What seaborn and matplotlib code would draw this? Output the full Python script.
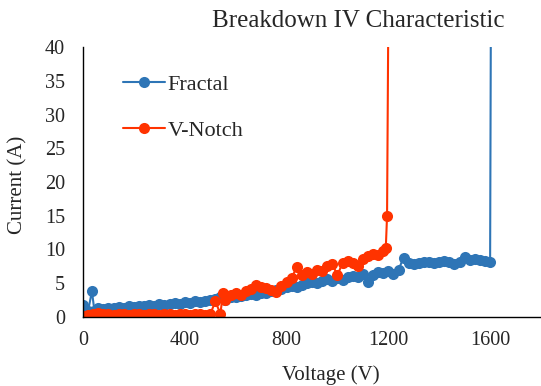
import matplotlib
matplotlib.use("Agg")
import matplotlib.pyplot as plt
import seaborn as sns
import pandas as pd

fractal_v = [0, 10, 20, 35, 45, 60, 80, 100, 120, 140, 160, 180, 200, 220, 240, 260, 280, 300,
             320, 340, 360, 380, 400, 420, 440, 460, 480, 500, 520, 540, 560, 580, 600, 620, 640,
             660, 680, 700, 720, 740, 760, 780, 800, 820, 840, 860, 880, 900, 920, 940, 960, 980,
             1000, 1020, 1040, 1060, 1080, 1100, 1120, 1140, 1160, 1180, 1200, 1220, 1240, 1260,
             1280, 1300, 1320, 1340, 1360, 1380, 1400, 1420, 1440, 1460, 1480, 1500, 1520, 1540,
             1560, 1580, 1600, 1603]
fractal_i = [1.8, 0.6, 0.9, 3.8, 0.9, 1.3, 1.2, 1.4, 1.3, 1.5, 1.4, 1.6, 1.5, 1.7, 1.6, 1.8, 1.7, 2.0,
             1.8, 2.0, 2.1, 2.0, 2.2, 2.1, 2.3, 2.2, 2.4, 2.5, 2.6, 2.9, 2.5, 2.9, 3.0, 3.1, 3.2,
             3.4, 3.3, 3.6, 3.5, 3.8, 4.0, 4.2, 4.4, 4.6, 4.5, 4.8, 5.0, 5.2, 5.0, 5.3, 5.6, 5.4,
             5.8, 5.5, 5.9, 6.1, 6.0, 6.3, 5.2, 6.2, 6.6, 6.5, 6.8, 6.4, 7.0, 8.8,
             8.0, 7.9, 8.0, 8.1, 8.2, 8.0, 8.2, 8.3, 8.1, 7.9, 8.2, 8.9, 8.5, 8.6,
             8.4, 8.3, 8.2, 45.0]

vnotch_v = [0, 20, 40, 60, 80, 100, 120, 140, 160, 180, 200, 220, 240, 260, 280, 300, 320, 340,
            360, 380, 400, 420, 440, 460, 480, 500, 520, 540, 550, 560, 580, 600, 620, 640, 660,
            680, 700, 720, 740, 760, 780, 800, 820, 840, 860, 880, 900, 920, 940, 960, 980, 1000,
            1020, 1040, 1060, 1080, 1100, 1120, 1140, 1160, 1180, 1190, 1195, 1200]
vnotch_i = [0.1, 0.3, 0.5, 0.6, 0.4, 0.5, 0.3, 0.5, 0.4, 0.3, 0.5, 0.4, 0.3, 0.5, 0.4, 0.3, 0.5, 0.4,
            0.3, 0.5, 0.4, 0.3, 0.5, 0.4, 0.3, 0.4, 2.3, 0.5, 3.5, 2.5, 3.2, 3.6, 3.3, 3.8, 4.2,
            4.8, 4.5, 4.3, 4.0, 3.7, 4.6, 5.2, 5.8, 7.4, 6.2, 6.6, 6.4, 7.0, 6.8, 7.5, 7.8, 6.2,
            8.0, 8.3, 8.0, 7.5, 8.6, 9.0, 9.4, 9.2, 9.8, 10.2, 15.0, 45.0]

x_ticks = [0, 400, 800, 1200, 1600]
y_ticks = [0, 5, 10, 15, 20, 25, 30, 35, 40]

sns.set_style("white")
plt.rcParams['font.family'] = ['Liberation Serif', 'DejaVu Serif']

fig = plt.figure(figsize=(5.41, 3.86), dpi=100)
ax = fig.add_axes([83/541, 1-317/386, (541-83)/541, (317-47)/386])

df_f = pd.DataFrame({"V": fractal_v, "I": fractal_i})
df_v = pd.DataFrame({"V": vnotch_v, "I": vnotch_i})

sns.lineplot(data=df_f, x="V", y="I", ax=ax, sort=False, color="#2E75B6", marker="o",
             markersize=8, markeredgewidth=0, linewidth=1.5, label="Fractal")
sns.lineplot(data=df_v, x="V", y="I", ax=ax, sort=False, color="#FF3300", marker="o",
             markersize=8, markeredgewidth=0, linewidth=1.5, label="V-Notch")

ax.set_xlim(0, 1800)
ax.set_ylim(0, 40)
ax.set_xticks(x_ticks)
ax.set_yticks(y_ticks)
ax.tick_params(axis='x', direction='in', length=5, width=1, color='black', labelsize=14.5, pad=10)
ax.tick_params(axis='y', length=0, labelsize=14.5, pad=13)
for s in ['top', 'right']:
    ax.spines[s].set_visible(False)
for s in ['left', 'bottom']:
    ax.spines[s].set_color('black')
    ax.spines[s].set_linewidth(1)

ax.set_xlabel("Voltage (V)", fontsize=15)
ax.set_ylabel("Current (A)", fontsize=15)
ax.xaxis.set_label_coords(0.54, -0.18)
ax.yaxis.set_label_coords(-0.122, 0.49)

fig.text(358/541, 1-21/386, "Breakdown IV Characteristic", fontsize=18, ha='center', va='center')

leg = ax.legend(loc='upper left', bbox_to_anchor=(123/541, 1-74/386),
                bbox_transform=fig.transFigure, frameon=False, fontsize=16,
                labelspacing=1.15, handlelength=1.9, handletextpad=0.1,
                borderpad=0, borderaxespad=0)

fig.savefig("out.png", dpi=100)
